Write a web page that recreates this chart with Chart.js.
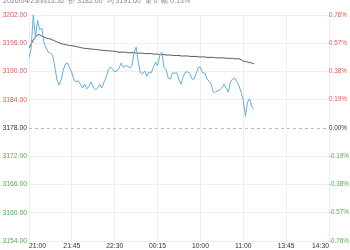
<!DOCTYPE html>
<html>
<head>
<meta charset="utf-8">
<script src="https://cdn.jsdelivr.net/npm/chart.js@4/dist/chart.umd.min.js"></script>
<style>
  body { margin: 0; background: #fff; }
  #wrap { position: relative; width: 350px; height: 250px; overflow: hidden; }
  #head { position: absolute; top: -4px; left: 3px; font: 7px "Liberation Sans", Arial, sans-serif; color: #888; white-space: nowrap; }
</style>
</head>
<body>
<div id="wrap">
  <canvas id="grafico" width="350" height="250"></canvas>
  <div id="head">2026/04/23/四13:32&nbsp; 价 3182.00&nbsp; 均 3191.60&nbsp; 量 0&nbsp; 幅 0.13%</div>
</div>
<script>
const horas = ['21:00', '21:45', '22:30', '00:15', '10:00', '11:00', '13:45', '14:30'];
const base = 3178;

const precio = [
    3192.9, 3195.0, 3202.0, 3197.1, 3200.9, 3198.8, 3199.2, 3196.1, 3195.0, 3194.1,
    3193.9, 3193.5, 3191.2, 3188.4, 3187.1, 3188.2, 3190.3, 3191.6, 3191.8, 3190.7,
    3189.7, 3188.2, 3187.8, 3188.0, 3187.3, 3186.5, 3187.3, 3186.3, 3186.9, 3187.8,
    3186.7, 3186.1, 3186.5, 3187.3, 3186.5, 3187.8, 3188.8, 3190.3, 3191.0, 3190.5,
    3189.9, 3190.1, 3190.7, 3191.8, 3190.9, 3191.2, 3191.2, 3190.7, 3191.2, 3193.9,
    3195.2, 3192.0, 3189.7, 3189.5, 3190.1, 3189.0, 3189.9, 3189.7, 3190.9, 3192.0,
    3191.2, 3193.3, 3194.1, 3190.9, 3190.3, 3188.6, 3188.4, 3189.7, 3189.7, 3189.7,
    3188.2, 3187.3, 3189.0, 3189.9, 3189.9, 3189.7, 3188.4, 3188.4, 3189.5, 3190.9,
    3190.9, 3189.7, 3189.7, 3188.4, 3188.0, 3187.3, 3185.6, 3185.6, 3185.9, 3186.1,
    3186.5, 3187.3, 3186.5, 3185.6, 3187.8, 3188.4, 3188.6, 3187.8, 3186.9, 3185.6,
    3183.9, 3180.5, 3183.5, 3184.2, 3182.5, 3182.0
];

const promedio = [
    3195.0, 3195.8, 3196.7, 3197.3, 3197.8, 3197.8, 3197.5, 3197.3, 3197.1, 3197.0,
    3196.9, 3196.7, 3196.5, 3196.3, 3196.1, 3195.9, 3195.8, 3195.7, 3195.6, 3195.5,
    3195.5, 3195.4, 3195.3, 3195.2, 3195.1, 3195.0, 3194.9, 3194.9, 3194.8, 3194.8,
    3194.7, 3194.7, 3194.6, 3194.6, 3194.5, 3194.5, 3194.4, 3194.4, 3194.4, 3194.3,
    3194.3, 3194.2, 3194.1, 3194.1, 3194.1, 3194.1, 3194.0, 3194.0, 3194.0, 3194.0,
    3193.9, 3193.9, 3193.9, 3193.9, 3193.8, 3193.8, 3193.8, 3193.8, 3193.7, 3193.7,
    3193.7, 3193.6, 3193.6, 3193.6, 3193.5, 3193.5, 3193.5, 3193.4, 3193.4, 3193.4,
    3193.4, 3193.3, 3193.3, 3193.3, 3193.3, 3193.2, 3193.2, 3193.2, 3193.2, 3193.1,
    3193.1, 3193.1, 3193.1, 3193.0, 3193.0, 3193.0, 3193.0, 3192.9, 3192.9, 3192.9,
    3192.9, 3192.9, 3192.8, 3192.8, 3192.8, 3192.8, 3192.7, 3192.7, 3192.7, 3192.5,
    3192.2, 3192.1, 3192.0, 3191.9, 3191.8, 3191.6
];

const fuente = { family: '"Liberation Sans", Arial, sans-serif', size: 6.8 };
const fuentePct = { family: '"Liberation Sans", Arial, sans-serif', size: 6.3 };

function colorValor(v) {
    if (Math.abs(v - base) < 0.001) return '#333';
    return v > base ? '#e05a5a' : '#4fae4f';
}

new Chart(document.getElementById('grafico'), {
    type: 'line',
    data: {
        datasets: [
            {
                data: precio.map((v, i) => ({ x: i, y: v })),
                borderColor: '#62aedb',
                borderWidth: 1,
                pointRadius: 0,
                tension: 0
            },
            {
                data: promedio.map((v, i) => ({ x: i, y: v })),
                borderColor: '#555',
                borderWidth: 1,
                pointRadius: 0,
                tension: 0
            }
        ]
    },
    options: {
        responsive: false,
        animation: false,
        layout: { padding: { top: 15, left: 0, right: 0, bottom: 0 } },
        plugins: { legend: { display: false }, tooltip: { enabled: false } },
        scales: {
            x: {
                type: 'linear',
                min: 0,
                max: 140,
                afterFit: s => { s.height = 9; },
                grid: { color: '#eee', drawTicks: false },
                border: { display: false },
                ticks: {
                    stepSize: 20,
                    align: 'inner',
                    padding: 1,
                    maxRotation: 0,
                    color: '#333',
                    font: fuente,
                    callback: v => horas[v / 20]
                }
            },
            y: {
                position: 'left',
                min: 3154,
                max: 3202,
                afterFit: s => { s.width = 29; },
                grid: {
                    drawTicks: false,
                    color: c => (c.tick && c.tick.value === base) ? '#bbb' : '#eee'
                },
                border: {
                    display: false,
                    dash: c => (c.tick && c.tick.value === base) ? [3, 3] : []
                },
                ticks: {
                    stepSize: 6,
                    padding: 2,
                    font: fuente,
                    color: c => colorValor(c.tick.value),
                    callback: v => v.toFixed(2)
                }
            },
            yPct: {
                position: 'right',
                min: 3154,
                max: 3202,
                afterFit: s => { s.width = 21; },
                grid: { display: false, drawTicks: false },
                border: { display: false },
                ticks: {
                    stepSize: 6,
                    padding: 0,
                    font: fuentePct,
                    color: c => colorValor(c.tick.value),
                    callback: v => ((v - base) / base * 100).toFixed(2) + '%'
                }
            }
        }
    }
});
</script>
</body>
</html>
